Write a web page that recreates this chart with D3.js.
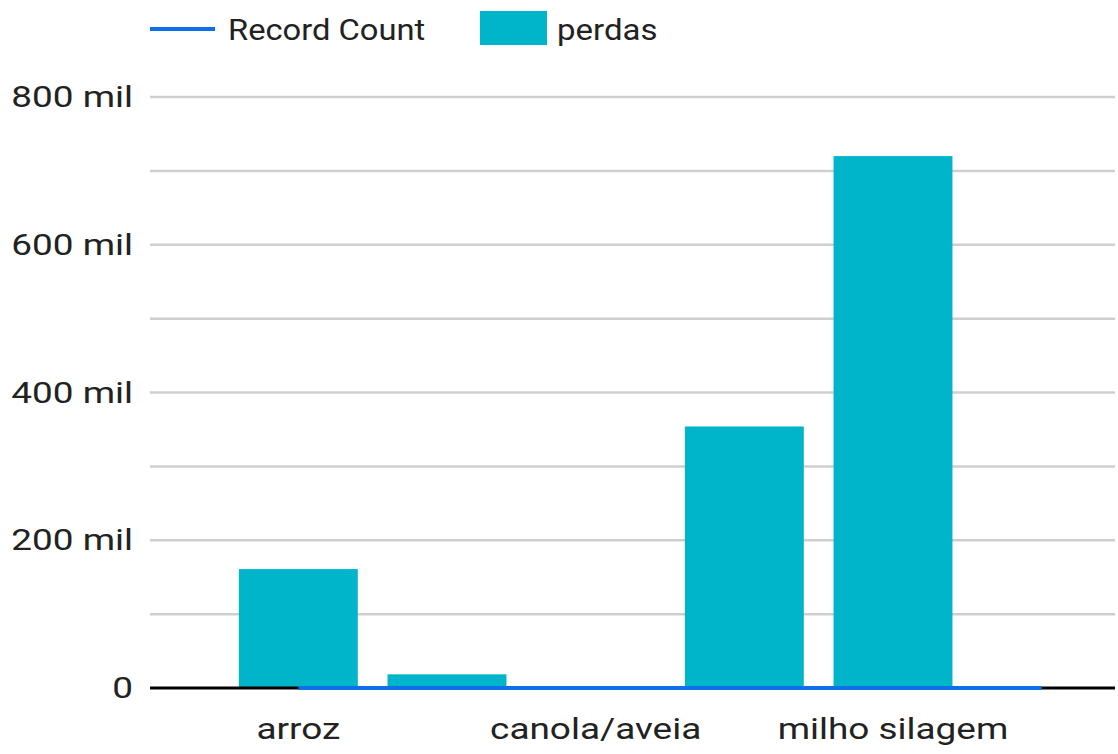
<!DOCTYPE html>
<html>
<head>
<meta charset="utf-8">
<script src="https://cdn.jsdelivr.net/npm/d3@7"></script>
<style>
  body { margin: 0; background: #fff; }
  text { font-family: Roboto, sans-serif; fill: #222; }
</style>
</head>
<body>
<svg width="1118" height="754"></svg>
<script>
const svg = d3.select('svg');

// data
const categories = ['arroz', 'aveia', 'canola/aveia', 'milho grão', 'milho silagem', 'soja'];
const perdas = [161000, 18500, 0, 354000, 720000, 0];
const recordCount = [4, 2, 1, 3, 5, 1];
const yTicks = [0, 200000, 400000, 600000, 800000];
const yTickLabels = ['0', '200 mil', '400 mil', '600 mil', '800 mil'];

const plotLeft = 150, plotRight = 1115, plotTop = 97, plotBottom = 688;

// text in the source is drawn a bit wider than Roboto
function widen(sel, k) {
  sel.each(function() {
    const w = this.getComputedTextLength();
    d3.select(this)
      .attr('textLength', w * k)
      .attr('lengthAdjust', 'spacingAndGlyphs');
  });
}

const x = d3.scaleBand()
  .domain(categories)
  .range([224, 1116])
  .paddingInner(0.2)
  .paddingOuter(0.1);

const y = d3.scaleLinear()
  .domain([0, 800000])
  .range([plotBottom, plotTop]);

// gridlines (major + minor)
svg.append('g')
  .selectAll('line')
  .data(d3.range(100000, 800001, 100000))
  .enter()
  .append('line')
  .attr('x1', plotLeft)
  .attr('x2', plotRight)
  .attr('y1', d => y(d))
  .attr('y2', d => y(d))
  .attr('stroke', '#cfcfcf')
  .attr('stroke-width', 2.5);

// y axis labels
const yAxis = d3.axisLeft(y)
  .tickValues(yTicks)
  .tickFormat((d, i) => yTickLabels[i])
  .tickSize(0)
  .tickPadding(17);

svg.append('g')
  .attr('transform', `translate(${plotLeft},0)`)
  .call(yAxis)
  .call(g => g.select('.domain').remove())
  .selectAll('text')
  .style('font-size', '30px')
  .style('font-family', 'Roboto, sans-serif')
  .attr('fill', '#222')
  .call(widen, 1.23);

// bars
svg.append('g')
  .selectAll('rect')
  .data(categories)
  .enter()
  .append('rect')
  .attr('x', d => x(d))
  .attr('width', x.bandwidth())
  .attr('y', (d, i) => y(perdas[i]))
  .attr('height', (d, i) => plotBottom - y(perdas[i]))
  .attr('fill', '#00b5c9');

// baseline
svg.append('line')
  .attr('x1', plotLeft)
  .attr('x2', plotRight)
  .attr('y1', plotBottom)
  .attr('y2', plotBottom)
  .attr('stroke', '#000')
  .attr('stroke-width', 3);

// record count line
const line = d3.line()
  .x((d, i) => x(categories[i]) + x.bandwidth() / 2)
  .y(d => y(d));

svg.append('path')
  .datum(recordCount)
  .attr('d', line)
  .attr('fill', 'none')
  .attr('stroke', '#0f6fe8')
  .attr('stroke-width', 4);

// x axis labels, every other one shown
const xAxis = d3.axisBottom(x)
  .tickValues(categories.filter((d, i) => i % 2 === 0))
  .tickSize(0)
  .tickPadding(30);

svg.append('g')
  .attr('transform', `translate(0,${plotBottom})`)
  .call(xAxis)
  .call(g => g.select('.domain').remove())
  .selectAll('text')
  .style('font-size', '30px')
  .style('font-family', 'Roboto, sans-serif')
  .attr('fill', '#222')
  .call(widen, 1.23);

// legend
const legend = svg.append('g');

legend.append('line')
  .attr('x1', 150)
  .attr('x2', 215)
  .attr('y1', 29)
  .attr('y2', 29)
  .attr('stroke', '#0f6fe8')
  .attr('stroke-width', 4);

legend.append('text')
  .attr('x', 228)
  .attr('y', 29)
  .attr('dy', '0.35em')
  .style('font-size', '30px')
  .text('Record Count')
  .call(widen, 1.09);

legend.append('rect')
  .attr('x', 480)
  .attr('y', 11)
  .attr('width', 67)
  .attr('height', 34)
  .attr('fill', '#00b5c9');

legend.append('text')
  .attr('x', 557)
  .attr('y', 29)
  .attr('dy', '0.35em')
  .style('font-size', '30px')
  .text('perdas')
  .call(widen, 1.1);
</script>
</body>
</html>
